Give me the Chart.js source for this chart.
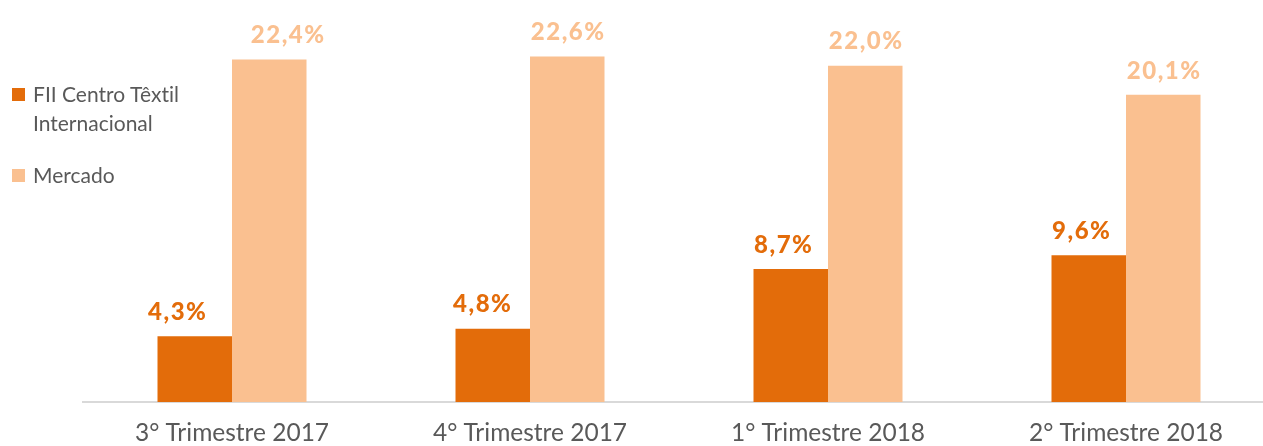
<!DOCTYPE html>
<html>
<head>
<meta charset="utf-8">
<script src="https://cdn.jsdelivr.net/npm/chart.js@4"></script>
<style>
  body { margin: 0; background: #fff; overflow: hidden; width: 1263px; height: 446px; position: relative; }
  #wrap { position: absolute; left: 0; top: 0; width: 1290px; height: 446px; }
  canvas { font-variant-ligatures: none; }
  #legend { position: absolute; left: 12px; top: 79px; font-family: Lato, sans-serif; font-size: 21px; color: #595959; line-height: 29px; font-variant-ligatures: none; }
  #legend .item { position: relative; padding-left: 21px; margin-bottom: 23px; }
  #legend .box { position: absolute; left: 0; top: 9px; width: 13px; height: 13px; }
</style>
</head>
<body>
<div id="wrap"><canvas id="chart"></canvas></div>
<div id="legend"></div>
<script>
// ---- data ----
const categories = ["3° Trimestre 2017", "4° Trimestre 2017", "1° Trimestre 2018", "2° Trimestre 2018"];
const seriesNames = ["FII Centro Têxtil Internacional", "Mercado"];
const fiiValues = [4.3, 4.8, 8.7, 9.6];
const mercadoValues = [22.4, 22.6, 22.0, 20.1];
const colors = ["#E36C0A", "#FAC090"];
// small horizontal nudges of the value labels, as placed in the original
const labelNudge = [[-18, -11, -8, -8], [18, 0, 0, 0]];

// ---- value labels above bars ----
const valueLabels = {
  id: "valueLabels",
  afterDatasetsDraw(chart) {
    const ctx = chart.ctx;
    ctx.save();
    ctx.font = "900 24px Lato, sans-serif";
    ctx.letterSpacing = "1.5px";
    ctx.textAlign = "center";
    ctx.textBaseline = "middle";
    chart.data.datasets.forEach((ds, i) => {
      const meta = chart.getDatasetMeta(i);
      ctx.fillStyle = ds.backgroundColor;
      meta.data.forEach((bar, j) => {
        const txt = ds.data[j].toFixed(1).replace(".", ",") + "%";
        ctx.fillText(txt, bar.x + 1 + labelNudge[i][j], bar.y - 24);
      });
    });
    ctx.restore();
  },
};

new Chart(document.getElementById("chart"), {
  type: "bar",
  data: {
    labels: categories,
    datasets: [
      { label: seriesNames[0], data: fiiValues, backgroundColor: colors[0] },
      { label: seriesNames[1], data: mercadoValues, backgroundColor: colors[1] },
    ],
  },
  options: {
    responsive: true,
    maintainAspectRatio: false,
    animation: false,
    layout: { padding: { left: 83, right: 15, top: 0, bottom: 0 } },
    datasets: { bar: { categoryPercentage: 0.5, barPercentage: 1.0 } },
    plugins: {
      legend: { display: false },
      tooltip: { enabled: false },
    },
    scales: {
      x: {
        grid: { display: false, drawTicks: false },
        border: { display: true, color: "#D9D9D9", width: 2 },
        ticks: { color: "#595959", font: { family: "Lato, sans-serif", size: 24.5 }, padding: 16 },
        afterFit(scale) { scale.height = 44; },
      },
      y: {
        display: false,
        min: 0,
        max: 26.3,
      },
    },
  },
  plugins: [valueLabels],
});

// ---- html legend ----
const legend = document.getElementById("legend");
legend.innerHTML = [
  '<div class="item"><span class="box" style="background:' + colors[0] + '"></span>FII Centro Têxtil<br>Internacional</div>',
  '<div class="item"><span class="box" style="background:' + colors[1] + '"></span>' + seriesNames[1] + '</div>',
].join("");
</script>
</body>
</html>
